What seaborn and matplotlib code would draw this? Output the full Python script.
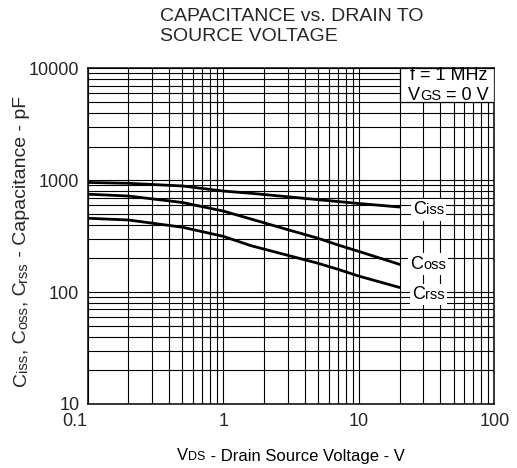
import numpy as np
import pandas as pd
import matplotlib
matplotlib.use("Agg")
import matplotlib.pyplot as plt
import seaborn as sns
from matplotlib.offsetbox import TextArea, HPacker, VPacker, AnnotationBbox
from matplotlib.patches import Rectangle
from matplotlib.ticker import LogLocator, FixedLocator, NullFormatter

# ---- data ----
vds = [0.1, 0.2, 0.5, 1, 1.6, 3, 5, 7, 10, 20]
ciss = [955, 938, 888, 800, 764, 711, 670, 645, 619, 576]
coss = [750, 722, 632, 530, 450, 361, 303, 264, 231, 177]
crss = [457, 441, 380, 315, 260, 213, 181, 160, 139, 110]
series_names = ["Ciss", "Coss", "Crss"]
x_ticks = [0.1, 1, 10, 100]
x_tick_labels = ["0.1", "1", "10", "100"]
y_ticks = [10, 100, 1000, 10000]
y_tick_labels = ["10", "100", "1000", "10000"]

sns.set_style("white")
plt.rcParams['font.family'] = ['Liberation Sans', 'DejaVu Sans']

W, H = 517, 468
fig = plt.figure(figsize=(W / 100, H / 100), dpi=100)
L, R, T, B = 87.7, 494.3, 68.3, 404.0
ax = fig.add_axes([L / W, 1 - B / H, (R - L) / W, (B - T) / H])

df = pd.DataFrame({
    "vds": vds * 3,
    "cap": ciss + coss + crss,
    "series": sum([[n] * len(vds) for n in series_names], []),
})
sns.lineplot(data=df, x="vds", y="cap", hue="series",
             palette={n: "black" for n in series_names},
             linewidth=2.0, legend=False, ax=ax, zorder=4)

ax.set_xscale("log")
ax.set_yscale("log")
ax.set_xlim(0.1, 100)
ax.set_ylim(10, 10000)
ax.xaxis.set_major_locator(FixedLocator(x_ticks))
ax.yaxis.set_major_locator(FixedLocator(y_ticks))
ax.set_xticklabels(x_tick_labels)
ax.set_yticklabels(y_tick_labels)
ax.xaxis.set_minor_locator(LogLocator(base=10, subs=np.arange(2, 10)))
ax.yaxis.set_minor_locator(LogLocator(base=10, subs=np.arange(2, 10)))
ax.xaxis.set_minor_formatter(NullFormatter())
ax.yaxis.set_minor_formatter(NullFormatter())
ax.grid(which="both", color="black", linewidth=0.8)
ax.set_axisbelow(True)
ax.tick_params(which="both", length=0)
ax.tick_params(axis="x", pad=6.5, labelsize=13)
ax.tick_params(axis="y", pad=6, labelsize=13)
for s in ax.spines.values():
    s.set_color("black")
    s.set_linewidth(1.1)
ax.set_xlabel("")
ax.set_ylabel("")
ax.get_xticklabels()[0].set_horizontalalignment("right")

# title
fig.text(160 / W, 1 - 8 / H, "CAPACITANCE vs. DRAIN TO\nSOURCE VOLTAGE",
         ha="left", va="top", fontsize=14, linespacing=1.22)

BIG, SMALL = 13, 10.5

def packed(parts, big=BIG, small=SMALL):
    kids = [TextArea(t, textprops=dict(fontsize=(small if sm else big), color="black",
                                        family=['Liberation Sans', 'DejaVu Sans']))
            for t, sm in parts]
    return HPacker(children=kids, align="baseline", pad=0, sep=0)

# curve labels
for parts, yf in [([("C", False), ("iss", True)], 0.578),
                  ([("C", False), ("oss", True)], 0.417),
                  ([("C", False), ("rss", True)], 0.325)]:
    ab = AnnotationBbox(packed(parts), (0.838, yf), xycoords="axes fraction",
                        frameon=True, pad=0.15,
                        bboxprops=dict(facecolor="white", edgecolor="none"),
                        zorder=6)
    ax.add_artist(ab)

# condition box
ax.add_patch(Rectangle((20, 5000), 80, 5000, transform=ax.transData,
                       facecolor="white", edgecolor="black", linewidth=0.9, zorder=5))
cond = VPacker(children=[packed([("f = 1 MHz", False)]),
                         packed([("V", False), ("GS", True), (" = 0 V", False)])],
               align="center", pad=0, sep=2)
ax.add_artist(AnnotationBbox(cond, (46, 7071), xycoords="data", frameon=False,
                             zorder=6))

# x label
xl = packed([("V", False), ("DS", True), (" - Drain Source Voltage - V", False)],
            big=12, small=9)
fig.add_artist(AnnotationBbox(xl, (291 / W, 1 - 456 / H), xycoords="figure fraction",
                              frameon=False))

# y label (rotated chain)
pieces = [("C", 14), ("iss", 10.5), (", C", 14), ("oss", 10.5), (", C", 14), ("rss", 10.5),
          (" - Capacitance - pF", 14)]
prev = None
for txt, fs in pieces:
    if prev is None:
        prev = fig.text(30 / W, 1 - 386 / H, txt, rotation=90, ha="right", va="bottom",
                        fontsize=fs)
    else:
        prev = ax.annotate(txt, xy=(1, 1), xycoords=prev, rotation=90, ha="right",
                           va="bottom", fontsize=fs, annotation_clip=False)

fig.savefig("out.png", dpi=100)
